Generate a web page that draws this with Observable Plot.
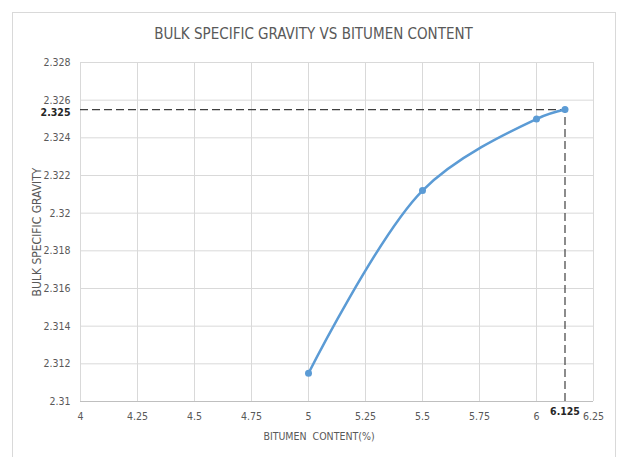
<!DOCTYPE html>
<html>
<head>
<meta charset="utf-8">
<script src="https://cdn.jsdelivr.net/npm/d3@7"></script>
<script src="https://cdn.jsdelivr.net/npm/@observablehq/plot@0.6"></script>
<style>
  body { margin: 0; background: #fff; font-family: "DejaVu Sans Condensed", "DejaVu Sans", sans-serif; font-stretch: condensed; }
  #frame { position: absolute; left: 12px; top: 12px; width: 604px; height: 452px; border: 1px solid #d9d9d9; box-sizing: border-box; }
  #title { position: relative; height: 50px; width: 619px; text-align: center; font-size: 15px; color: #595959; line-height: 20px; padding-top: 24px; box-sizing: border-box; padding-left: 8px; }
  #chart { position: relative; }
</style>
</head>
<body>
<div id="frame"></div>
<div id="title">BULK SPECIFIC GRAVITY VS BITUMEN CONTENT</div>
<div id="chart"></div>
<script>
const bitumen = [5, 5.5, 6, 6.125];
const gravity = [2.3115, 2.3212, 2.3250, 2.3255];
const xTicks = [4, 4.25, 4.5, 4.75, 5, 5.25, 5.5, 5.75, 6, 6.25];
const yTicks = [2.31, 2.312, 2.314, 2.316, 2.318, 2.32, 2.322, 2.324, 2.326, 2.328];
const optimumX = [6.125];
const optimumY = [2.3255];
const optimumXLabel = ["6.125"];
const optimumYLabel = ["2.325"];
const xLabel = ["BITUMEN  CONTENT(%)"];
const yLabel = ["BULK SPECIFIC GRAVITY"];

const data = bitumen.map((x, i) => ({x, y: gravity[i]}));
const font = "DejaVu Sans Condensed, DejaVu Sans, sans-serif";
const fmt = d => String(+d.toFixed(3));

const plot = Plot.plot({
  width: 619,
  height: 407,
  marginLeft: 80,
  marginRight: 26,
  marginTop: 12,
  marginBottom: 56,
  style: {fontFamily: font, fontSize: "10.5px", color: "#595959", background: "transparent", fontStretch: "condensed"},
  x: {domain: [4, 6.25]},
  y: {domain: [2.31, 2.328]},
  marks: [
    Plot.gridX(xTicks, {stroke: "#d9d9d9", strokeOpacity: 1}),
    Plot.gridY(yTicks, {stroke: "#d9d9d9", strokeOpacity: 1}),
    Plot.ruleY([2.31], {stroke: "#bfbfbf"}),
    Plot.axisX({ticks: xTicks, tickSize: 0, tickPadding: 11, tickFormat: fmt, label: null, fontSize: 10.5}),
    Plot.axisY({ticks: yTicks, tickSize: 0, tickPadding: 10, tickFormat: fmt, label: null, fontSize: 10.5}),
    Plot.text(xLabel, {frameAnchor: "bottom", dy: 38, dx: -18, text: d => d, fill: "#595959", fontSize: 10.5}),
    Plot.text(yLabel, {frameAnchor: "left", dx: -43, rotate: -90, textAnchor: "middle", text: d => d, fill: "#595959", fontSize: 12}),
    Plot.ruleY(optimumY, {x1: 4, x2: optimumX[0], stroke: "#404040", strokeWidth: 1.2, strokeDasharray: "8,4"}),
    Plot.ruleX(optimumX, {y1: 2.31, y2: optimumY[0], stroke: "#404040", strokeWidth: 1.2, strokeDasharray: "8,4"}),
    Plot.line(data, {x: "x", y: "y", curve: "catmull-rom", stroke: "#5B9BD5", strokeWidth: 2.5}),
    Plot.dot(data, {x: "x", y: "y", r: 3.5, fill: "#5B9BD5"}),
    Plot.text(optimumXLabel, {x: optimumX, y: [2.31], dy: 10, text: d => d, fill: "#262626", fontWeight: "bold", fontSize: 10.5}),
    Plot.text(optimumYLabel, {x: [4], y: optimumY, dx: -10, dy: 3, text: d => d, textAnchor: "end", fill: "#262626", fontWeight: "bold", fontSize: 10.5})
  ]
});
document.getElementById("chart").appendChild(plot);
</script>
</body>
</html>
